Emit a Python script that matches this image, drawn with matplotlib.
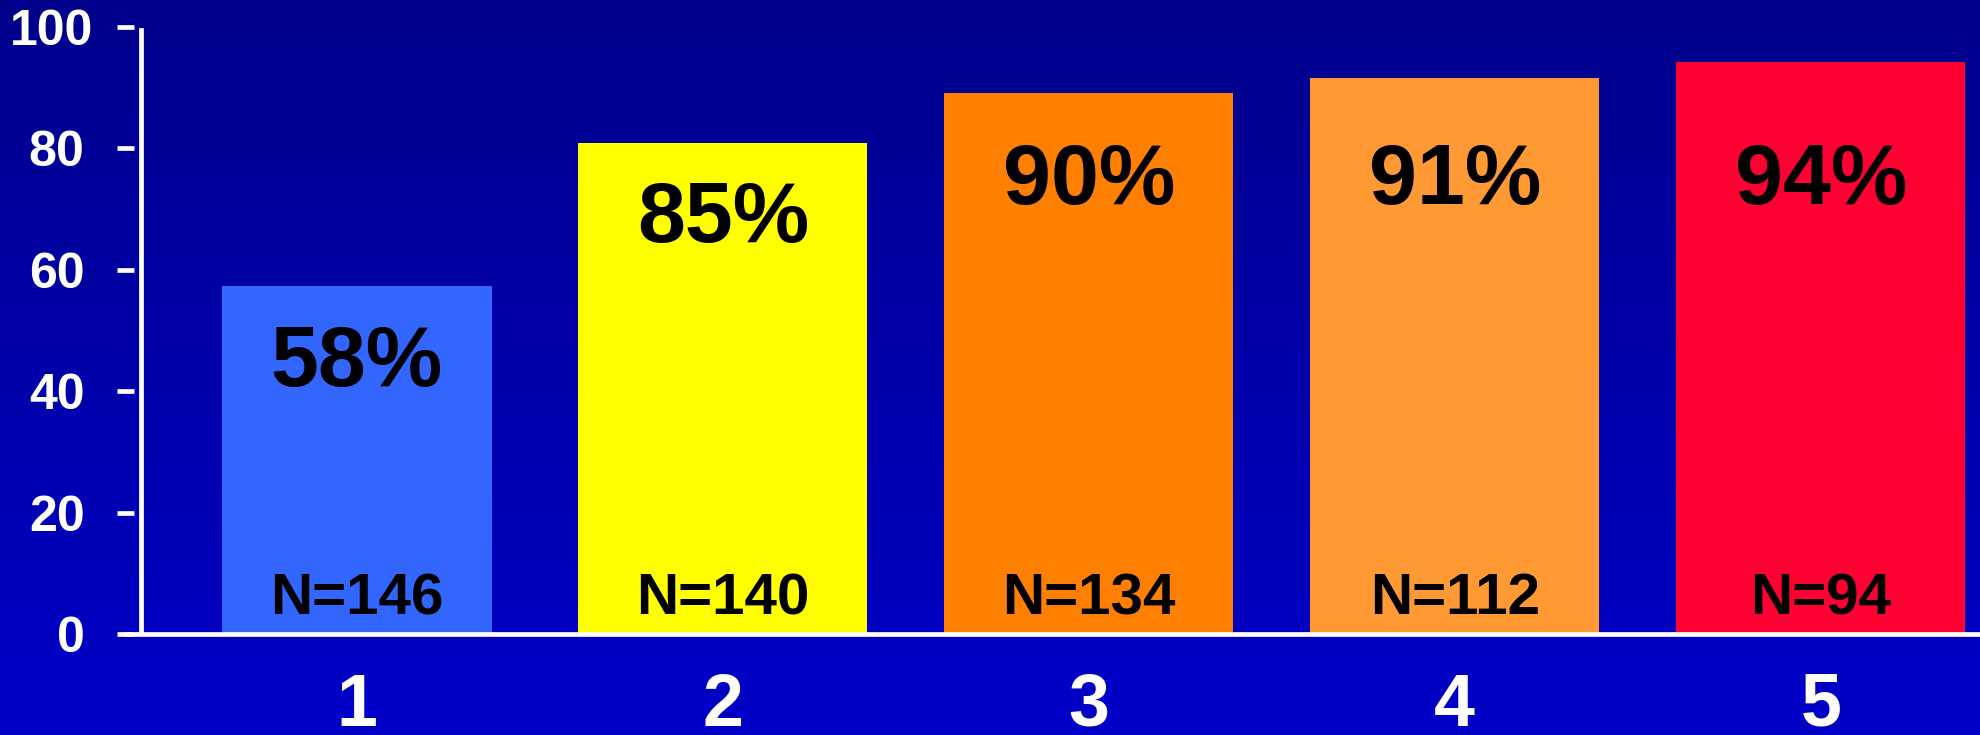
import matplotlib
matplotlib.use("Agg")
import matplotlib.pyplot as plt
from matplotlib.colors import LinearSegmentedColormap
from matplotlib.transforms import ScaledTranslation
import numpy as np

# data
groups = ["1", "2", "3", "4", "5"]
heights = [57.3, 80.9, 89.0, 91.5, 94.2]
pct_labels = ["58%", "85%", "90%", "91%", "94%"]
n_labels = ["N=146", "N=140", "N=134", "N=112", "N=94"]
y_ticks = [0, 20, 40, 60, 80, 100]

bar_colors = ["#3366FF", "#FFFF00", "#FF8000", "#FF9933", "#FF0033"]
bar_widths = [0.74, 0.79, 0.79, 0.79, 0.79]

plt.rcParams['font.family'] = ['Liberation Sans', 'DejaVu Sans']
plt.rcParams['font.weight'] = 'bold'

fig = plt.figure(figsize=(19.81, 7.35), dpi=100)

# blue gradient background (dark on top, brighter at bottom)
bg = fig.add_axes([0, 0, 1, 1], zorder=0)
cmap = LinearSegmentedColormap.from_list("slide", ["#00008B", "#0000C8"])
bg.imshow(np.linspace(0, 1, 256).reshape(-1, 1), aspect='auto', cmap=cmap,
          extent=[0, 1, 0, 1])
bg.axis('off')

ax = fig.add_axes([0.0714, 0.1374, 0.9286, 0.8263], zorder=1)
ax.set_facecolor('none')

x = np.arange(len(groups))
ax.bar(x, heights, width=bar_widths, color=bar_colors, zorder=2)

for xi, h, pct, n in zip(x, heights, pct_labels, n_labels):
    ax.text(xi, min(h - 12.8, 74.5), pct, ha='center', va='center',
            fontsize=62, fontweight='bold', color='black', zorder=3)
    ax.text(xi, 5.7, n, ha='center', va='center',
            fontsize=42, fontweight='bold', color='black', zorder=3)

ax.set_xlim(-0.589, 4.438)
ax.set_ylim(0, 100)

for side in ['top', 'right', 'bottom']:
    ax.spines[side].set_visible(False)
# baseline runs a bit past the y axis, like on the slide
ax.axhline(0, xmin=-0.0085, xmax=1, color='white', lw=3.4, clip_on=False,
           zorder=4)
ax.spines['left'].set_color('white')
ax.spines['left'].set_linewidth(3.4)
ax.spines['left'].set_bounds(0.7, 99.4)

ax.set_xticks(x)
ax.set_xticklabels(groups)
ax.tick_params(axis='x', length=0, pad=27, labelsize=53, labelcolor='white')
ax.tick_params(axis='y', left=False, labelleft=False)

# y ticks sit a little apart from the axis line
sec = ax.secondary_yaxis(-0.0038)
sec.spines['left'].set_visible(False)
sec.set_yticks(y_ticks)
sec.tick_params(length=12, width=3.4, color='white', labelcolor='white',
                labelsize=36, pad=24)
ylabels = sec.get_yticklabels()
for lbl in ylabels:
    lbl.set_fontweight('bold')
# the "100" on the slide sits a bit further right than the others
top = ylabels[-1]
top.set_transform(top.get_transform() + ScaledTranslation(6 / 72, 0, fig.dpi_scale_trans))

fig.savefig('out.png', dpi=100)
